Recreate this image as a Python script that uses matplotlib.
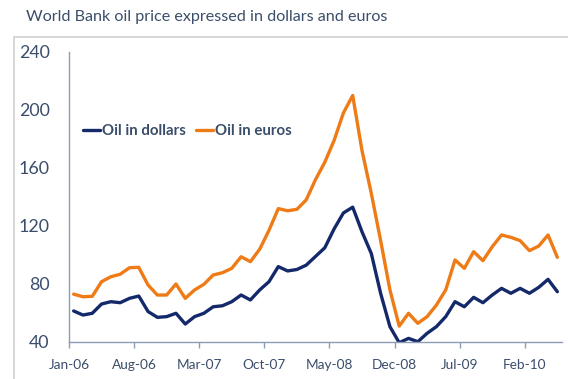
import matplotlib
matplotlib.use("Agg")
import matplotlib.pyplot as plt
from matplotlib.patches import Rectangle

# Monthly series, Jan-06 to May-10
months = ["Jan-06", "Feb-06", "Mar-06", "Apr-06", "May-06", "Jun-06", "Jul-06", "Aug-06",
          "Sep-06", "Oct-06", "Nov-06", "Dec-06", "Jan-07", "Feb-07", "Mar-07", "Apr-07",
          "May-07", "Jun-07", "Jul-07", "Aug-07", "Sep-07", "Oct-07", "Nov-07", "Dec-07",
          "Jan-08", "Feb-08", "Mar-08", "Apr-08", "May-08", "Jun-08", "Jul-08", "Aug-08",
          "Sep-08", "Oct-08", "Nov-08", "Dec-08", "Jan-09", "Feb-09", "Mar-09", "Apr-09",
          "May-09", "Jun-09", "Jul-09", "Aug-09", "Sep-09", "Oct-09", "Nov-09", "Dec-09",
          "Jan-10", "Feb-10", "Mar-10", "Apr-10", "May-10"]

oil_dollars = [61.4, 58.6, 59.8, 66.2, 67.8, 67.1, 70.1, 71.7, 61.0, 57.0, 57.5, 59.8,
               52.4, 57.5, 59.8, 64.3, 65.0, 67.8, 72.4, 69.0, 75.9, 81.6,
               92.0, 89.0, 90.0, 93.0, 99.0, 105.0, 118.0, 129.0, 133.0, 116.0,
               101.0, 73.6, 50.6, 39.5, 42.5, 40.2, 46.0, 50.6, 57.5, 67.8,
               64.3, 70.8, 67.1, 72.4, 77.0, 73.6, 77.0, 73.6, 77.7, 83.2, 74.7]

oil_euros = [73.0, 71.2, 71.5, 81.6, 85.0, 86.7, 91.2, 91.5, 79.3, 72.4, 72.4, 80.0,
             70.1, 75.9, 79.8, 86.2, 87.8, 90.8, 98.8, 95.4, 104.0, 117.0,
             132.0, 130.5, 131.5, 138.0, 152.0, 164.0, 179.0, 198.0, 210.0, 172.0,
             142.5, 110.0, 76.0, 51.0, 59.8, 52.9, 57.5, 65.5, 75.9, 96.6,
             90.8, 102.3, 96.1, 105.7, 113.8, 112.2, 109.9, 103.0, 106.2, 113.8, 98.4]

tick_every = 7
y_ticks = [40, 80, 120, 160, 200, 240]

NAVY = "#13296a"
ORANGE = "#ef7b16"
TEXT = "#3a4d6a"
AXIS = "#8d9cb4"

plt.rcParams["font.family"] = ["Lato", "DejaVu Sans"]

fig = plt.figure(figsize=(5.68, 3.79), dpi=100)
W, H = 568, 379

# light frame around the chart area
fig.patches.append(Rectangle((14 / W, -0.05), 1.0, 1 - 37 / H + 0.05,
                             transform=fig.transFigure, fill=False,
                             edgecolor="#cfcfcf", linewidth=1.2))

fig.text(26 / W, 1 - 17 / H, "World Bank oil price expressed in dollars and euros",
         fontsize=11.6, color=TEXT, va="center", ha="left")

ax = fig.add_axes([69 / W, 1 - 342 / H, (562 - 69) / W, (342 - 52) / H])
x = list(range(len(months)))
ax.plot(x, oil_dollars, color=NAVY, lw=2.4, label="Oil in dollars",
        solid_joinstyle="round", solid_capstyle="round")
ax.plot(x, oil_euros, color=ORANGE, lw=2.4, label="Oil in euros",
        solid_joinstyle="round", solid_capstyle="round")

ax.set_xlim(-0.5, len(months) - 0.5)
ax.set_ylim(40, 240)
ax.set_yticks(y_ticks)
ax.set_yticklabels([str(v) for v in y_ticks], fontsize=12.8, color=TEXT)
tick_pos = [i - 0.5 for i in range(0, len(months), tick_every)]
ax.set_xticks(tick_pos)
ax.set_xticklabels(months[::tick_every], fontsize=9.8, color=TEXT)

ax.tick_params(axis="y", length=0, pad=14)
ax.tick_params(axis="x", length=4, width=1, color=AXIS, pad=8)
for side in ("top", "right"):
    ax.spines[side].set_visible(False)
for side in ("left", "bottom"):
    ax.spines[side].set_color(AXIS)
    ax.spines[side].set_linewidth(1.0)

leg = ax.legend(loc="center left", bbox_to_anchor=(83 / W, 1 - 131 / H),
                bbox_transform=fig.transFigure, ncol=2, frameon=False,
                handlelength=1.15, handletextpad=0.1, columnspacing=0.7,
                borderaxespad=0, borderpad=0,
                prop={"size": 10.8, "weight": "bold"})
for t in leg.get_texts():
    t.set_color(TEXT)

fig.savefig("out.png", dpi=100)
